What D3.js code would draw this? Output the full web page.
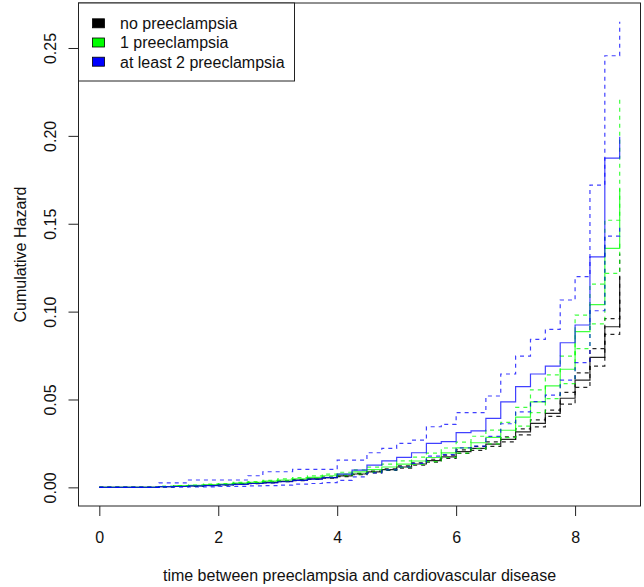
<!DOCTYPE html>
<html>
<head>
<meta charset="utf-8">
<script src="https://cdn.jsdelivr.net/npm/d3@7"></script>
<style>
  html, body { margin: 0; padding: 0; background: #fff; }
  svg { display: block; font-family: "Liberation Sans", Arial, sans-serif; }
</style>
</head>
<body>
<svg id="chart" width="644" height="587"></svg>
<script>
// follow-up times (years), steps every quarter after year 1
const times = [0, 1, 1.25, 1.5, 1.75, 2, 2.25, 2.5, 2.75, 3, 3.25, 3.5, 3.75, 4, 4.25, 4.5, 4.75,
  5, 5.25, 5.5, 5.75, 6, 6.25, 6.5, 6.75, 7, 7.25, 7.5, 7.75, 8, 8.25, 8.5, 8.75];

// no preeclampsia
const noneEst = [0, 0.0004, 0.0006, 0.0008, 0.0011, 0.0015, 0.0019, 0.0023, 0.0028, 0.0034, 0.0041, 0.0048, 0.0056,
  0.0065, 0.0076, 0.0088, 0.0101, 0.0116, 0.0133, 0.0152, 0.0174, 0.0203, 0.0222, 0.0246, 0.0273, 0.0316, 0.0364,
  0.0421, 0.0507, 0.0610, 0.0740, 0.0914, 0.1200];
const noneLow = [0, 0.0003, 0.0005, 0.0007, 0.0010, 0.0014, 0.0017, 0.0021, 0.0026, 0.0032, 0.0038, 0.0045, 0.0053,
  0.0061, 0.0072, 0.0083, 0.0096, 0.0110, 0.0126, 0.0144, 0.0165, 0.0193, 0.0211, 0.0233, 0.0259, 0.0299, 0.0344,
  0.0404, 0.0474, 0.0569, 0.0690, 0.0870, 0.1080];
const noneUp = [0, 0.0005, 0.0007, 0.0009, 0.0012, 0.0016, 0.0021, 0.0025, 0.0030, 0.0036, 0.0044, 0.0051, 0.0059,
  0.0069, 0.0080, 0.0093, 0.0106, 0.0122, 0.0140, 0.0160, 0.0183, 0.0213, 0.0233, 0.0259, 0.0287, 0.0333, 0.0384,
  0.0439, 0.0540, 0.0652, 0.0790, 0.0960, 0.1330];

// 1 preeclampsia
const oneEst = [0, 0.0005, 0.0008, 0.0011, 0.0015, 0.0019, 0.0024, 0.0029, 0.0035, 0.0042, 0.0049, 0.0057, 0.0066,
  0.0076, 0.0088, 0.0101, 0.0116, 0.0132, 0.0150, 0.0170, 0.0196, 0.0225, 0.0254, 0.0285, 0.0325, 0.0400, 0.0487,
  0.0577, 0.0672, 0.0886, 0.1040, 0.1360, 0.1700];
const oneLow = [0, 0.0003, 0.0006, 0.0009, 0.0012, 0.0016, 0.0020, 0.0025, 0.0030, 0.0036, 0.0042, 0.0049, 0.0057,
  0.0066, 0.0076, 0.0087, 0.0100, 0.0114, 0.0130, 0.0147, 0.0170, 0.0195, 0.0221, 0.0248, 0.0283, 0.0348, 0.0425,
  0.0505, 0.0590, 0.0790, 0.0930, 0.1218, 0.1400];
const oneUp = [0, 0.0007, 0.0010, 0.0013, 0.0018, 0.0022, 0.0028, 0.0033, 0.0040, 0.0048, 0.0056, 0.0065, 0.0075,
  0.0086, 0.0100, 0.0115, 0.0132, 0.0151, 0.0172, 0.0195, 0.0224, 0.0258, 0.0291, 0.0326, 0.0370, 0.0455, 0.0555,
  0.0640, 0.0747, 0.0980, 0.1157, 0.1520, 0.2208];

// at least 2 preeclampsia
const twoEst = [0, 0.0004, 0.0005, 0.0008, 0.0010, 0.0014, 0.0017, 0.0022, 0.0026, 0.0032, 0.0040, 0.0047, 0.0055,
  0.0075, 0.0098, 0.0127, 0.0151, 0.0171, 0.0197, 0.0250, 0.0260, 0.0311, 0.0322, 0.0393, 0.0487, 0.0573, 0.0645,
  0.0690, 0.0823, 0.0924, 0.1312, 0.1873, 0.1995];
const twoLow = [0, 0.0001, 0.0001, 0.0002, 0.0003, 0.0005, 0.0006, 0.0008, 0.0010, 0.0013, 0.0018, 0.0022, 0.0027,
  0.0040, 0.0060, 0.0082, 0.0100, 0.0116, 0.0136, 0.0178, 0.0186, 0.0225, 0.0235, 0.0290, 0.0362, 0.0430, 0.0488,
  0.0525, 0.0610, 0.0710, 0.1005, 0.1430, 0.1500];
const twoUp = [0, 0.0026, 0.0026, 0.0042, 0.0042, 0.0042, 0.0042, 0.0066, 0.0089, 0.0089, 0.0102, 0.0102, 0.0102,
  0.0155, 0.0155, 0.0197, 0.0222, 0.0250, 0.0269, 0.0345, 0.0359, 0.0425, 0.0425, 0.0520, 0.0645, 0.0747, 0.0842,
  0.0899, 0.1066, 0.1199, 0.1720, 0.2456, 0.2650];

const groupNames = ["no preeclampsia", "1 preeclampsia", "at least 2 preeclampsia"];
const groupColors = ["#000000", "#00ff00", "#0000ff"];
const xTicks = [0, 2, 4, 6, 8];
const yTicks = [0, 0.05, 0.10, 0.15, 0.20, 0.25];

const svg = d3.select("#chart"),
  margin = { top: 3, right: 3.5, bottom: 81, left: 78.5 },
  width = +svg.attr("width"),
  height = +svg.attr("height");

// R style axis limits: data range padded by 4%
const xMax = d3.max(times);
const yMax = d3.max(twoUp);
const x = d3.scaleLinear()
  .domain([-0.04 * xMax, xMax * 1.04])
  .range([margin.left, width - margin.right]);
const y = d3.scaleLinear()
  .domain([-0.04 * yMax, yMax * 1.04])
  .range([height - margin.bottom, margin.top]);

const line = d3.line()
  .curve(d3.curveStepAfter)
  .x(d => x(d.t))
  .y(d => y(d.v));

const series = [
  { vals: noneEst, col: 0, dash: null },
  { vals: noneLow, col: 0, dash: "4,4" },
  { vals: noneUp, col: 0, dash: "4,4" },
  { vals: oneEst, col: 1, dash: null },
  { vals: oneLow, col: 1, dash: "4,4" },
  { vals: oneUp, col: 1, dash: "4,4" },
  { vals: twoEst, col: 2, dash: null },
  { vals: twoLow, col: 2, dash: "4,4" },
  { vals: twoUp, col: 2, dash: "4,4" }
];

const g = svg.append("g").attr("class", "curves");
series.forEach(s => {
  g.append("path")
    .datum(times.map((t, i) => ({ t: t, v: s.vals[i] })))
    .attr("fill", "none")
    .attr("stroke", groupColors[s.col])
    .attr("stroke-opacity", s.col === 0 ? 0.85 : 0.75)
    .attr("stroke-width", 1.2)
    .attr("stroke-dasharray", s.dash)
    .attr("d", line);
});

// x axis
const xAxis = svg.append("g")
  .attr("transform", `translate(0, ${height - margin.bottom})`)
  .call(d3.axisBottom(x).tickValues(xTicks).tickSize(10).tickFormat(d3.format("d")));
xAxis.select(".domain").remove();
xAxis.selectAll("line").attr("stroke", "#222");
xAxis.selectAll("text")
  .attr("y", 36.5)
  .attr("dy", 0)
  .attr("fill", "#111")
  .style("font-size", "16px")
  .style("font-family", "Liberation Sans, Arial, sans-serif");

// y axis, labels rotated like R's default las = 0
const yAxis = svg.append("g")
  .attr("transform", `translate(${margin.left}, 0)`)
  .call(d3.axisLeft(y).tickValues(yTicks).tickSize(10).tickFormat(d3.format(".2f")));
yAxis.select(".domain").remove();
yAxis.selectAll("line").attr("stroke", "#222");
yAxis.selectAll("text")
  .attr("x", 0)
  .attr("y", 0)
  .attr("dy", 0)
  .attr("text-anchor", "middle")
  .attr("transform", "translate(-23,0) rotate(-90)")
  .attr("fill", "#111")
  .style("font-size", "16px")
  .style("font-family", "Liberation Sans, Arial, sans-serif");

// plot box
svg.append("rect")
  .attr("x", margin.left)
  .attr("y", margin.top)
  .attr("width", width - margin.left - margin.right)
  .attr("height", height - margin.top - margin.bottom)
  .attr("fill", "none")
  .attr("stroke", "#222")
  .attr("stroke-width", 1);

// axis titles
svg.append("text")
  .attr("x", (margin.left + width - margin.right) / 2)
  .attr("y", 580.5)
  .attr("text-anchor", "middle")
  .attr("fill", "#111")
  .style("font-size", "16px")
  .text("time between preeclampsia and cardiovascular disease");

svg.append("text")
  .attr("transform", `translate(25.5, ${(margin.top + height - margin.bottom) / 2}) rotate(-90)`)
  .attr("text-anchor", "middle")
  .attr("fill", "#111")
  .style("font-size", "16px")
  .text("Cumulative Hazard");

// legend in the top left corner
const legend = svg.append("g")
  .attr("transform", `translate(${margin.left}, ${margin.top})`);
legend.append("rect")
  .attr("width", 216)
  .attr("height", 78)
  .attr("fill", "#fff")
  .attr("stroke", "#222")
  .attr("stroke-width", 1);
groupNames.forEach((name, i) => {
  const row = legend.append("g").attr("transform", `translate(0, ${20.3 + i * 19.2})`);
  row.append("rect")
    .attr("x", 14)
    .attr("y", -4.5)
    .attr("width", 12)
    .attr("height", 9)
    .attr("fill", groupColors[i])
    .attr("stroke", "#000")
    .attr("stroke-width", 0.8);
  row.append("text")
    .attr("x", 41.5)
    .attr("y", 5.8)
    .attr("fill", "#111")
    .style("font-size", "16px")
    .text(name);
});
</script>
</body>
</html>
